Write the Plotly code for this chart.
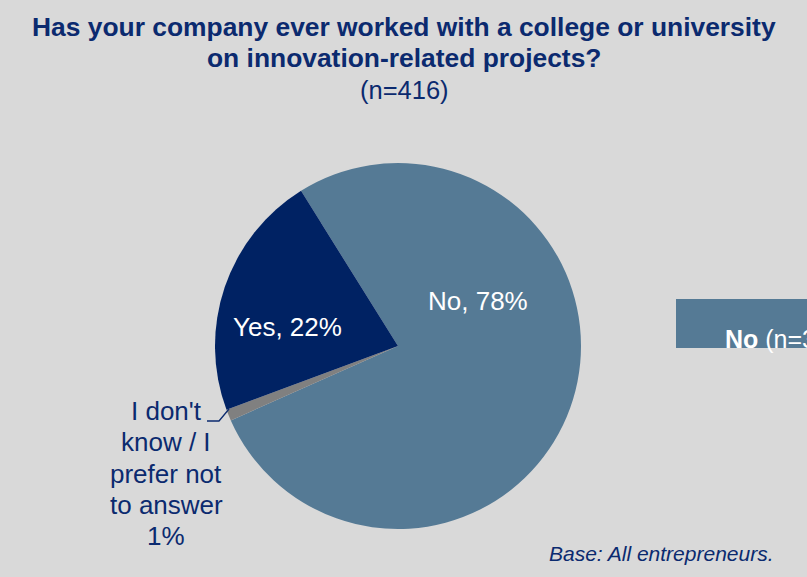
import plotly.graph_objects as go

# Survey answers (percent of respondents), in clockwise drawing order
answers = ["No", "I don't know / I prefer not to answer", "Yes"]
shares = [78, 1, 22]
colors = ["#557A95", "#808080", "#002263"]

title_lines = ["Has your company ever worked with a college or university",
               "on innovation-related projects?"]
sample_note = "(n=416)"
base_note = "Base: All entrepreneurs."
no_count = 324

W, H = 807, 577
BG = "#D9D9D9"
NAVY = "#0B2A6F"

fig = go.Figure()

cx, cy, r = 398, 346, 183  # pie centre and radius in pixels
fig.add_trace(go.Pie(
    labels=answers,
    values=shares,
    sort=False,
    direction="clockwise",
    rotation=-32,
    marker=dict(colors=colors, line=dict(width=0)),
    textinfo="none",
    hoverinfo="label+value",
    showlegend=False,
    domain=dict(x=[(cx - r) / W, (cx + r) / W],
                y=[(H - cy - r) / H, (H - cy + r) / H]),
))

font_family = "Liberation Sans, Arial, sans-serif"


def label(x, y, text, size, color, anchor="center"):
    return dict(x=x / W, y=1 - y / H, xref="paper", yref="paper",
                xanchor=anchor, yanchor="middle", text=text, showarrow=False,
                font=dict(family=font_family, size=size, color=color))


ann = [
    label(404, 27, "<b>" + title_lines[0] + "</b>", 26.4, NAVY),
    label(404, 58, "<b>" + title_lines[1] + "</b>", 26.4, NAVY),
    label(404, 90, sample_note, 25.5, NAVY),
    # slice labels
    label(478, 301, f"{answers[0]}, {shares[0]}%", 26, "white"),
    label(287, 327, f"{answers[2]}, {shares[2]}%", 26, "white"),
]
idk_lines = ["I don't", "know / I", "prefer not", "to answer", f"{shares[1]}%"]
for i, line in enumerate(idk_lines):
    ann.append(label(166, 411 + i * 31.3, line, 26, NAVY))

# side box label (runs off the right edge)
ann.append(label(723, 339, f"<b>No</b> (n={no_count})", 25, "white", anchor="left"))
ann.append(label(776, 553, f"<i>{base_note}</i>", 21, NAVY, anchor="right"))

shapes = [
    dict(type="rect", xref="paper", yref="paper", layer="below",
         x0=676 / W, x1=1.3, y0=1 - 348 / H, y1=1 - 299 / H,
         fillcolor=colors[0], line=dict(width=0)),
    # leader line for the small slice
    dict(type="path", xref="paper", yref="paper",
         path=f"M {207 / W} {1 - 421 / H} L {219 / W} {1 - 421 / H} L {229 / W} {1 - 409 / H}",
         line=dict(color=NAVY, width=1.3)),
]

fig.update_layout(
    width=W, height=H,
    margin=dict(l=0, r=0, t=0, b=0),
    paper_bgcolor=BG, plot_bgcolor=BG,
    annotations=ann, shapes=shapes,
)

fig.write_html("out.html")
